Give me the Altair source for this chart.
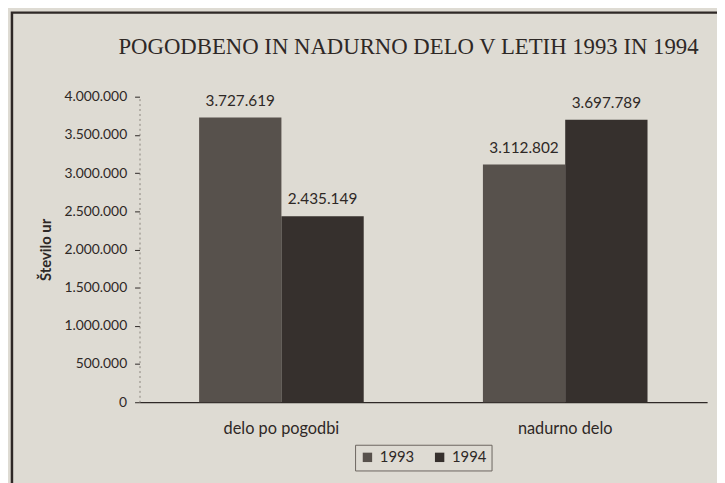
import altair as alt
import pandas as pd

categories = ["delo po pogodbi", "delo po pogodbi", "nadurno delo", "nadurno delo"]
years = ["1993", "1994", "1993", "1994"]
hours = [3727619, 2435149, 3112802, 3697789]
y_ticks = [0, 500000, 1000000, 1500000, 2000000, 2500000, 3000000, 3500000, 4000000]

df = pd.DataFrame({"kategorija": categories, "leto": years, "ure": hours})

BG = "#dedbd3"
INK = "#2e2826"
SANS = "Lato"
SERIF = "Liberation Serif"

fmt = "replace(format(%s, ','), regexp(',', 'g'), '.')"

base = alt.Chart(df).encode(
    x=alt.X(
        "kategorija:N",
        title=None,
        sort=["delo po pogodbi", "nadurno delo"],
        scale=alt.Scale(paddingInner=0.42, paddingOuter=0.21),
        axis=alt.Axis(
            labelAngle=0, labelFontSize=16.5, labelFont=SANS, labelColor=INK,
            labelPadding=19, ticks=False, domainColor=INK, domainWidth=1.3,
        ),
    ),
    xOffset=alt.XOffset("leto:N", sort=["1993", "1994"], scale=alt.Scale(paddingInner=0, paddingOuter=0)),
    y=alt.Y(
        "ure:Q",
        title="Število ur",
        scale=alt.Scale(domain=[0, 4000000], nice=False),
        axis=alt.Axis(
            values=y_ticks,
            labelExpr=fmt % "datum.value",
            labelOverlap=False,
            labelFontSize=14, labelFont=SANS, labelColor=INK, labelPadding=8,
            tickSize=5, tickColor=INK, domainColor="#8a847c", domainDash=[2, 3],
            grid=False, titleFont=SANS, titleFontSize=15, titleFontWeight="bold",
            titleColor=INK, titlePadding=11,
        ),
    ),
)

bars = base.mark_bar().encode(
    color=alt.Color(
        "leto:N",
        sort=["1993", "1994"],
        scale=alt.Scale(domain=["1993", "1994"], range=["#57514c", "#36302d"]),
        legend=alt.Legend(
            title=None, orient="none", legendX=218, legendY=352, direction="horizontal",
            symbolType="square", symbolSize=90, symbolFillColor=INK, labelFontSize=15,
            labelFont=SANS, labelColor=INK, strokeColor="#6b655f", padding=5,
            columnPadding=18, symbolStrokeWidth=0, labelOffset=5,
        ),
    ),
)

labels = base.mark_text(baseline="bottom", dy=-9, fontSize=15.5, font=SANS, color=INK).encode(
    text=alt.Text("lbl:N"),
).transform_calculate(lbl=fmt % "datum.ure")

frame = alt.Chart(alt.Data(values=[{}])).mark_rect(
    fill=None, stroke=INK, strokeWidth=2.5, clip=False
).encode(
    x=alt.value(-129), x2=alt.value(700), y=alt.value(-85), y2=alt.value(500)
)

chart = alt.layer(frame, bars, labels).properties(
    width=574,
    height=309,
    background=BG,
    padding={"left": 133, "top": 87, "right": 10, "bottom": 79},
    autosize=alt.AutoSizeParams(type="none"),
    title=alt.Title(
        "POGODBENO IN NADURNO DELO V LETIH 1993 IN 1994",
        font=SERIF, fontSize=23, fontWeight="normal", color=INK,
        anchor="middle", dx=-15, offset=-48,
    ),
).configure_view(stroke=None)

chart.save("out.html", embed_options={"renderer": "svg", "actions": False})
